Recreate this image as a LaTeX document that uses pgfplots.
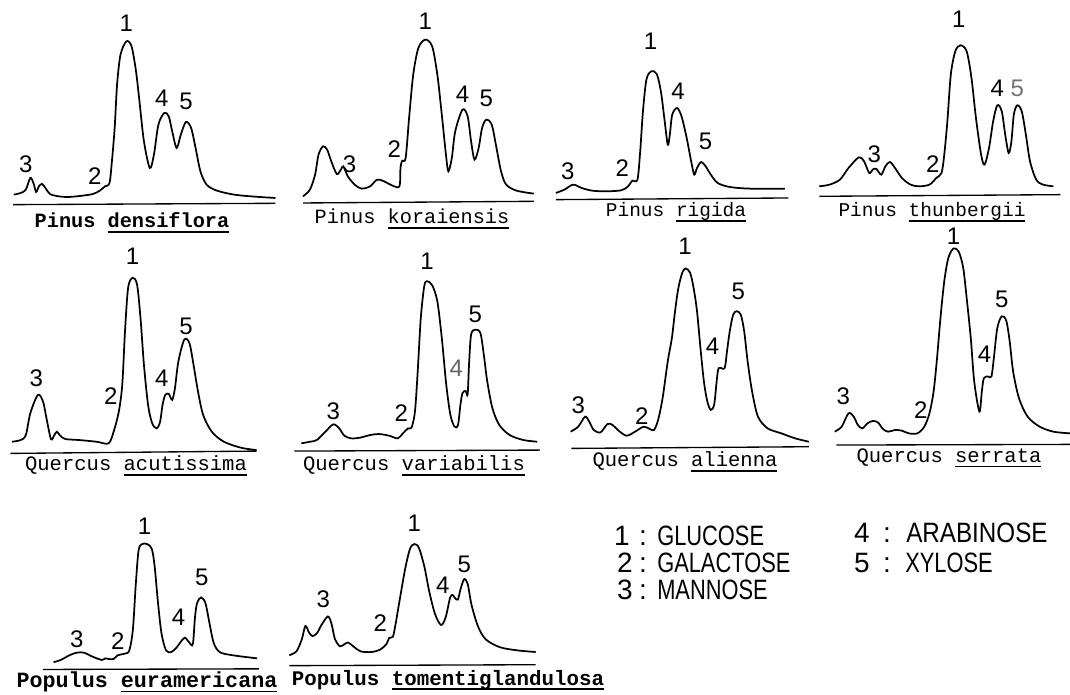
\documentclass[border=0pt]{standalone}
\usepackage{pgfplots}
\pgfplotsset{compat=1.18}
\usepackage{fontspec}
\setmainfont{Liberation Sans}
\newfontfamily\capfont{Liberation Mono}
\newfontfamily\legA[FakeStretch=0.78]{Liberation Sans}
\newfontfamily\legB[FakeStretch=0.865]{Liberation Sans}
\newcommand\ul[1]{\sbox0{#1}\rlap{\rule[-3.8pt]{\wd0}{1.3pt}}\usebox0}
\pgfplotsset{
  z1/.style={x filter/.expression={x/2.904}, y filter/.expression={y/3+1.3}},
  z2/.style={x filter/.expression={x/2.904+530}, y filter/.expression={y/3+1.3}},
  z3/.style={x filter/.expression={x/2.904}, y filter/.expression={y/2.99+231}},
  z4/.style={x filter/.expression={x/2.904+530}, y filter/.expression={y/2.99+231}},
  z5/.style={x filter/.expression={x/2.8}, y filter/.expression={y/3.15+452}},
  trace/.style={black, line width=1.3pt, smooth, tension=0.5, mark=none},
  base/.style={black, line width=1pt, mark=none},
}
\tikzset{
  lab/.style={font=\fontsize{18}{18}\selectfont, inner sep=0pt, anchor=center},
  capt/.style={font=\capfont\fontsize{15.2}{15}\selectfont, inner sep=0pt, anchor=center},
  captr/.style={font=\capfont\fontsize{14.6}{15}\selectfont, inner sep=0pt, anchor=center},
  captq/.style={font=\capfont\fontsize{15.4}{15}\selectfont, inner sep=0pt, anchor=center},
  legn/.style={font=\fontsize{21}{21}\selectfont, inner sep=0pt, anchor=center, text height=11pt, text depth=0pt},
  legw/.style={inner sep=0pt, anchor=west, text height=11pt, text depth=0pt},
}
\begin{document}
\begin{tikzpicture}
\begin{axis}[
  scale only axis, width=802.5pt, height=520.5pt,
  xmin=0, xmax=1070, ymin=0, ymax=694, y dir=reverse,
  hide axis, clip=false,
]
% ---------------- Panel 1: Pinus densiflora
\addplot[trace, z1] coordinates {(40,580) (60,575) (75,565) (88,530) (97,545) (105,572) (113,555) (122,548) (132,560) (145,578) (170,585) (200,587) (240,583) (270,578) (290,568) (305,555) (318,545) (325,480) (333,380) (340,250) (350,160) (367,120) (382,135) (395,210) (405,300) (418,420) (435,500) (447,460) (460,370) (477,335) (490,345) (500,390) (513,440) (525,400) (540,362) (555,380) (568,440) (582,510) (600,550) (630,568) (680,580) (740,586) (800,590)};
\addplot[base, z1] coordinates {(38,610) (800,606)};
% ---------------- Panel 2: Pinus koraiensis
\addplot[trace, z1] coordinates {(880,585) (900,565) (915,520) (925,460) (938,435) (950,445) (962,480) (978,518) (990,505) (997,495) (1010,525) (1030,550) (1050,562) (1075,555) (1095,535) (1115,540) (1140,553) (1160,555) (1163,500) (1168,478) (1178,470) (1188,350) (1200,220) (1215,140) (1235,115) (1255,135) (1270,220) (1282,330) (1295,460) (1302,510) (1312,470) (1322,390) (1343,325) (1358,345) (1368,420) (1378,475) (1390,440) (1400,380) (1412,355) (1428,370) (1440,430) (1455,510) (1470,550) (1500,568) (1550,577)};
\addplot[base, z1] coordinates {(880,605) (1550,600)};
% ---------------- Panel 3: Pinus rigida
\addplot[trace, z2] coordinates {(75,575) (100,565) (125,550) (150,560) (180,568) (220,570) (265,567) (285,555) (297,538) (312,535) (320,450) (328,330) (338,235) (352,210) (368,218) (380,270) (390,350) (400,430) (406,400) (413,340) (427,320) (440,345) (455,410) (468,480) (477,520) (485,500) (497,482) (510,495) (525,520) (545,545) (580,557) (640,562) (740,562)};
\addplot[base, z2] coordinates {(75,595) (750,590)};
% ---------------- Panel 4: Pinus thunbergii
\addplot[trace, z2] coordinates {(840,555) (870,550) (900,535) (925,500) (955,468) (970,480) (985,515) (995,505) (1005,502) (1020,520) (1032,495) (1045,482) (1060,500) (1080,530) (1105,550) (1130,555) (1160,550) (1180,530) (1195,515) (1203,460) (1212,360) (1222,220) (1235,150) (1250,132) (1268,150) (1282,230) (1295,350) (1310,460) (1320,490) (1333,440) (1345,360) (1357,312) (1370,330) (1380,400) (1390,455) (1398,420) (1405,340) (1415,312) (1428,330) (1440,400) (1452,480) (1470,535) (1490,550) (1520,555)};
\addplot[base, z2] coordinates {(840,585) (1540,580)};
% ---------------- Panel 5: Quercus acutissima
\addplot[trace, z3] coordinates {(35,630) (60,625) (75,610) (88,545) (110,490) (125,510) (135,560) (148,622) (158,610) (165,600) (175,612) (190,622) (230,625) (280,630) (315,635) (330,600) (345,540) (355,460) (363,300) (372,170) (385,140) (398,160) (408,260) (418,400) (430,520) (442,575) (455,590) (465,570) (472,520) (480,490) (490,487) (500,505) (508,470) (518,390) (535,325) (550,335) (562,400) (575,480) (590,550) (615,600) (650,630) (700,648) (745,655)};
\addplot[base, z3] coordinates {(30,665) (745,658)};
% ---------------- Panel 6: Quercus variabilis
\addplot[trace, z3] coordinates {(875,635) (900,630) (920,625) (945,600) (968,578) (985,590) (1000,612) (1020,620) (1045,618) (1075,610) (1100,607) (1130,612) (1155,620) (1170,605) (1185,590) (1195,588) (1205,540) (1213,420) (1222,260) (1232,165) (1240,150) (1255,162) (1270,210) (1283,320) (1296,460) (1308,550) (1320,585) (1330,580) (1337,520) (1343,485) (1352,478) (1358,488) (1362,400) (1368,310) (1380,295) (1395,305) (1405,370) (1415,450) (1430,530) (1450,580) (1480,610) (1520,625) (1560,630)};
\addplot[base, z3] coordinates {(855,658) (1568,655)};
% ---------------- Panel 7: Quercus alienna
\addplot[trace, z4] coordinates {(118,600) (140,585) (160,555) (172,570) (185,595) (205,602) (225,577) (240,580) (255,595) (280,612) (305,600) (330,585) (348,592) (360,595) (372,565) (385,500) (400,390) (412,320) (420,250) (430,175) (442,125) (452,112) (465,125) (475,170) (485,240) (495,350) (505,450) (515,510) (525,535) (535,518) (542,450) (548,410) (565,410) (572,360) (580,300) (590,250) (600,240) (612,250) (622,300) (632,390) (645,480) (662,555) (690,590) (730,605) (770,620) (810,630)};
\addplot[base, z4] coordinates {(120,650) (810,645)};
% ---------------- Panel 8: Quercus serrata
\addplot[trace, z4] coordinates {(885,600) (905,585) (925,545) (940,555) (952,580) (965,590) (980,575) (995,568) (1010,572) (1025,592) (1040,600) (1060,595) (1080,597) (1100,605) (1125,605) (1145,585) (1160,545) (1172,480) (1182,380) (1192,260) (1203,150) (1215,80) (1230,52) (1245,62) (1258,110) (1268,200) (1280,320) (1290,450) (1305,540) (1312,480) (1318,440) (1330,435) (1340,435) (1347,380) (1357,290) (1370,255) (1383,268) (1393,330) (1403,420) (1420,500) (1445,555) (1480,585) (1520,600) (1568,605)};
\addplot[base, z4] coordinates {(890,640) (1568,638)};
% ---------------- Panel 9: Populus euramericana
\addplot[trace, z5] coordinates {(150,662) (170,655) (195,640) (215,632) (235,632) (260,645) (285,655) (295,650) (305,652) (318,652) (330,640) (350,635) (362,625) (372,560) (380,420) (388,310) (398,290) (412,290) (425,305) (433,360) (442,470) (452,570) (465,625) (480,630) (495,615) (508,595) (518,585) (530,600) (540,605) (546,520) (552,475) (563,458) (575,475) (585,530) (598,600) (615,630) (650,640) (720,650)};
\addplot[base, z5] coordinates {(120,685) (725,683)};
% ---------------- Panel 10: Populus tomentiglandulosa
\addplot[trace, z5] coordinates {(810,640) (830,628) (845,590) (855,548) (865,568) (875,580) (888,570) (900,545) (918,518) (928,540) (938,590) (952,612) (965,605) (975,600) (990,613) (1010,628) (1040,630) (1065,622) (1082,605) (1090,585) (1100,582) (1108,540) (1120,460) (1135,365) (1148,305) (1160,290) (1173,302) (1188,360) (1202,440) (1218,510) (1235,545) (1248,520) (1260,460) (1267,450) (1274,460) (1282,465) (1290,430) (1300,400) (1310,418) (1320,480) (1338,548) (1360,590) (1400,615) (1450,625) (1500,630)};
\addplot[base, z5] coordinates {(810,673) (1500,670)};

% ---------------- peak labels
\node[lab] at (axis cs:25.8,164.6) {3};
\node[lab] at (axis cs:94.7,176.3) {2};
\node[lab] at (axis cs:126.4,23) {1};
\node[lab] at (axis cs:161.8,98) {4};
\node[lab] at (axis cs:186,101.3) {5};

\node[lab] at (axis cs:349.5,164.6) {3};
\node[lab] at (axis cs:394.3,149.6) {2};
\node[lab] at (axis cs:425.3,21.3) {1};
\node[lab] at (axis cs:462.5,94.6) {4};
\node[lab] at (axis cs:486.2,98) {5};

\node[lab] at (axis cs:567.9,171.3) {3};
\node[lab] at (axis cs:622.3,168) {2};
\node[lab] at (axis cs:650.5,41.3) {1};
\node[lab] at (axis cs:678.1,91.3) {4};
\node[lab] at (axis cs:705.6,141.3) {5};

\node[lab] at (axis cs:874.4,154.6) {3};
\node[lab] at (axis cs:932.9,164.6) {2};
\node[lab] at (axis cs:958.7,19.6) {1};
\node[lab] at (axis cs:997.3,88.6) {4};
\node[lab, black!55] at (axis cs:1017.3,88.6) {5};

\node[lab] at (axis cs:36.2,378.2) {3};
\node[lab] at (axis cs:110.9,396.6) {2};
\node[lab] at (axis cs:132.6,256.1) {1};
\node[lab] at (axis cs:161.8,378.2) {4};
\node[lab] at (axis cs:186,326.3) {5};

\node[lab] at (axis cs:333.3,411.6) {3};
\node[lab] at (axis cs:401.2,413.3) {2};
\node[lab] at (axis cs:427,261.1) {1};
\node[lab, black!60] at (axis cs:456.3,368.1) {4};
\node[lab] at (axis cs:475.2,314.6) {5};

\node[lab] at (axis cs:578.2,404.9) {3};
\node[lab] at (axis cs:641.9,416.6) {2};
\node[lab] at (axis cs:685,246) {1};
\node[lab] at (axis cs:712.5,346.4) {4};
\node[lab] at (axis cs:738.3,291.2) {5};

\node[lab] at (axis cs:843.4,396.6) {3};
\node[lab] at (axis cs:920.8,409.9) {2};
\node[lab] at (axis cs:953.6,236) {1};
\node[lab] at (axis cs:984.6,354.7) {4};
\node[lab] at (axis cs:1001.8,299.6) {5};

\node[lab] at (axis cs:76.8,639.3) {3};
\node[lab] at (axis cs:117.9,640.9) {2};
\node[lab] at (axis cs:144.6,526.6) {1};
\node[lab] at (axis cs:178.6,617.1) {4};
\node[lab] at (axis cs:201.8,577.4) {5};

\node[lab] at (axis cs:323.2,599.6) {3};
\node[lab] at (axis cs:380.4,623.4) {2};
\node[lab] at (axis cs:414.3,523.4) {1};
\node[lab] at (axis cs:442.9,585.3) {4};
\node[lab] at (axis cs:464.3,564.7) {5};

% ---------------- captions
\node[capt, font=\capfont\bfseries\fontsize{15.2}{15}\selectfont] at (axis cs:132,223) {Pinus \ul{densiflora}};
\node[capt] at (axis cs:412,219) {Pinus \ul{koraiensis}};
\node[captr] at (axis cs:676,212) {Pinus \ul{rigida}};
\node[captr] at (axis cs:932,212) {Pinus \ul{thunbergii}};
\node[captq] at (axis cs:136,466) {Quercus \ul{acutissima}};
\node[captq] at (axis cs:414,466) {Quercus \ul{variabilis}};
\node[captq] at (axis cs:685,462) {Quercus \ul{alienna}};
\node[captq] at (axis cs:949,458) {Quercus \ul{serrata}};
\node[captq, font=\capfont\bfseries\fontsize{16.3}{16}\selectfont] at (axis cs:147,682) {Populus \ul{euramericana}};
\node[captq, font=\capfont\bfseries\fontsize{15.6}{16}\selectfont] at (axis cs:448,680) {Populus \ul{tomentiglandulosa}};

% ---------------- legend
\node[legn] at (axis cs:622,538) {1};
\node[legn] at (axis cs:643,538) {:};
\node[legw, font=\legA\fontsize{21}{21}\selectfont] at (axis cs:657,538) {GLUCOSE};
\node[legn] at (axis cs:625,565) {2};
\node[legn] at (axis cs:643,565) {:};
\node[legw, font=\legA\fontsize{21}{21}\selectfont] at (axis cs:657,565) {GALACTOSE};
\node[legn] at (axis cs:625,592) {3};
\node[legn] at (axis cs:643,592) {:};
\node[legw, font=\legA\fontsize{21}{21}\selectfont] at (axis cs:657,592) {MANNOSE};
\node[legn] at (axis cs:862,535) {4};
\node[legn] at (axis cs:887,535) {:};
\node[legw, font=\legB\fontsize{21}{21}\selectfont] at (axis cs:906,535) {ARABINOSE};
\node[legn] at (axis cs:862,565) {5};
\node[legn] at (axis cs:887,565) {:};
\node[legw, font=\legA\fontsize{21}{21}\selectfont] at (axis cs:905,565) {XYLOSE};
\end{axis}
\pgfresetboundingbox
\path (current axis.south west) rectangle (current axis.north east);
\end{tikzpicture}
\end{document}
